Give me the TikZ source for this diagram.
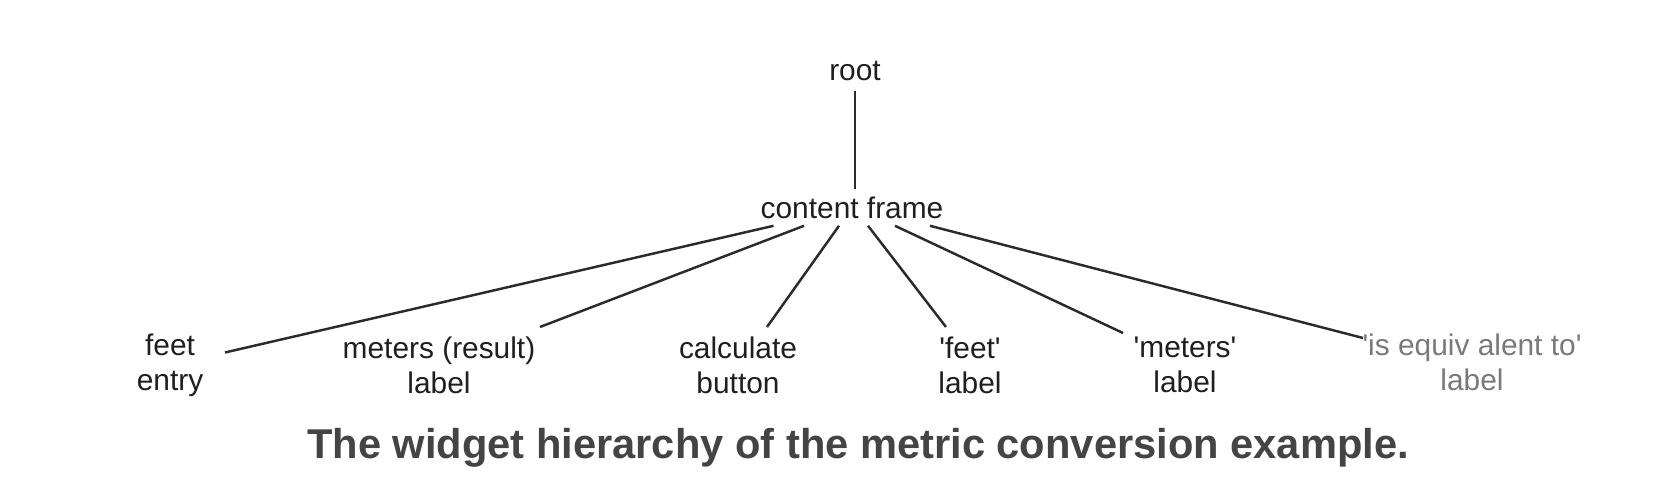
\documentclass[tikz,border=0pt]{standalone}
\usepackage{fontspec}
\setmainfont{Liberation Sans}
\newfontfamily\widgetfont{Liberation Sans}
\usetikzlibrary{positioning, calc}
\definecolor{treeline}{HTML}{2B2B2B}
\definecolor{captiongray}{HTML}{444444}
\definecolor{fadedgray}{HTML}{7A7A7A}

\begin{document}
\begin{tikzpicture}[
    widget/.style={font=\widgetfont\fontsize{17}{19.9}\selectfont, align=center, inner sep=0pt, text=black!88},
    branch/.style={treeline, line width=1.4pt}
  ]
  \useasboundingbox (0,0) rectangle (33.32,10.08);

  % tree of widgets
  \node[widget] (root) at (17.10,8.66) {root};
  \node[widget] (frame) at (17.04,5.92) {content frame};
  \node[widget] (feetentry) at (3.40,2.78) {feet\\entry};
  \node[widget] (resultlabel) at (8.78,2.78) {meters (result)\\label};
  \node[widget] (calcbutton) at (14.76,2.78) {calculate\\button};
  \node[widget] (feetlabel) at (19.40,2.78) {'feet'\\label};
  \node[widget] (meterslabel) at (23.70,2.78) {'meters'\\label};
  \node[widget, text=fadedgray] (equivlabel) at (29.44,2.84) {'is equiv alent to'\\label};

  \draw[branch] ([yshift=-0.2cm]root.south) -- ([yshift=0.15cm]root.south |- frame.north);
  \foreach \child/\dx/\ex/\ey in {feetentry/-1.57/1.10/0.25, resultlabel/-0.96/2.02/0.76,
                                  calcbutton/-0.26/0.58/0.76, feetlabel/0.32/-0.48/0.76,
                                  meterslabel/0.86/-1.24/0.64, equivlabel/1.56/-2.18/0.48} {
    \draw[branch] ([xshift=\dx cm, yshift=-0.13cm]frame.south) -- ($(\child)+(\ex,\ey)$);
  }

  \node[font=\bfseries\fontsize{23.7}{28}\selectfont, text=captiongray] (caption) at (17.16,1.12)
    {The widget hierarchy of the metric conversion example.};
\end{tikzpicture}
\end{document}
